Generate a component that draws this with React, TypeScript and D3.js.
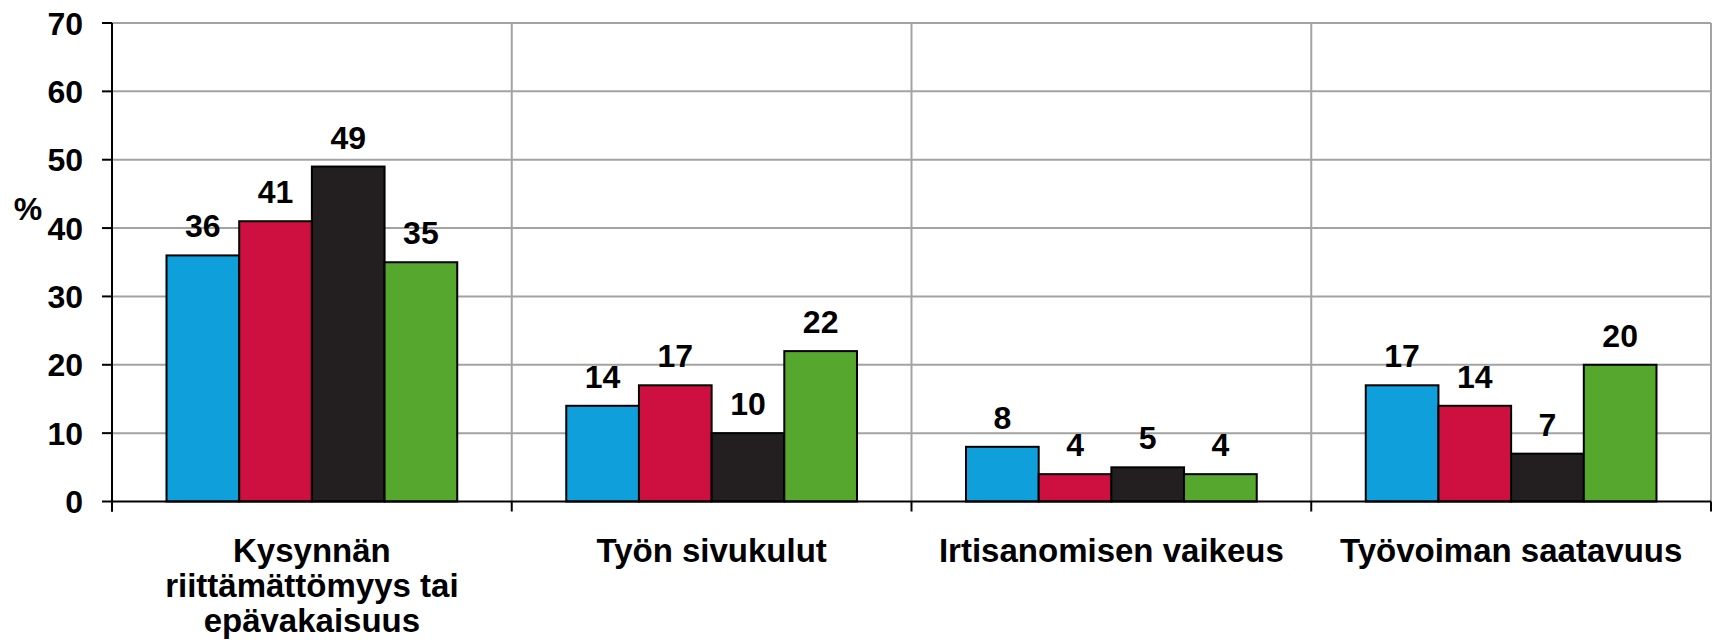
import React from "react";
import * as d3 from "d3";

const categories = [
  "Kysynnän riittämättömyys tai epävakaisuus",
  "Työn sivukulut",
  "Irtisanomisen vaikeus",
  "Työvoiman saatavuus",
];
const categoryLines = [
  ["Kysynnän", "riittämättömyys tai", "epävakaisuus"],
  ["Työn sivukulut"],
  ["Irtisanomisen vaikeus"],
  ["Työvoiman saatavuus"],
];
const seriesNames = ["s1", "s2", "s3", "s4"];
const seriesColors = ["#0fa0db", "#ce1040", "#231f20", "#56a72d"];
const blueValues = [36, 14, 8, 17];
const redValues = [41, 17, 4, 14];
const blackValues = [49, 10, 5, 7];
const greenValues = [35, 22, 4, 20];
const yTicks = [0, 10, 20, 30, 40, 50, 60, 70];

const WIDTH = 1717;
const HEIGHT = 644;
const FONT = "'Liberation Sans', Arial, sans-serif";

const App = () => {
  const left = 112;
  const right = 1711;
  const top = 23;
  const bottom = 501.5;

  const values = [blueValues, redValues, blackValues, greenValues];

  const x = d3.scaleBand().domain(categories).range([left, right]).padding(0);
  const xInner = d3
    .scaleBand()
    .domain(seriesNames)
    .range([0, x.bandwidth()])
    .paddingInner(0)
    .paddingOuter(0.75);
  const y = d3.scaleLinear().domain([0, 70]).range([bottom, top]);

  const boundaries = categories.map((c) => x(c)).concat([right]);

  return (
    <svg
      width={WIDTH}
      height={HEIGHT}
      style={{ position: "absolute", left: 0, top: 0, background: "#fff" }}
      fontFamily={FONT}
      fontWeight="bold"
    >
      {/* horizontal grid */}
      {yTicks.slice(1).map((t) => (
        <line key={t} x1={left} x2={right} y1={y(t)} y2={y(t)} stroke="#a3a3a3" strokeWidth={2} />
      ))}
      {/* vertical dividers */}
      {boundaries.slice(1).map((b, i) => (
        <line key={i} x1={b} x2={b} y1={y(70)} y2={bottom} stroke="#a3a3a3" strokeWidth={2} />
      ))}

      {/* bars */}
      {categories.map((c, ci) => (
        <g key={c} transform={`translate(${x(c)},0)`}>
          {seriesNames.map((s, si) => {
            const v = values[si][ci];
            return (
              <g key={s}>
                <rect
                  x={xInner(s)}
                  y={y(v)}
                  width={xInner.bandwidth()}
                  height={bottom - y(v)}
                  fill={seriesColors[si]}
                  stroke="#000"
                  strokeWidth={2}
                />
                <text
                  x={xInner(s) + xInner.bandwidth() / 2}
                  y={y(v) - 18}
                  textAnchor="middle"
                  fontSize={32}
                  fill="#000"
                >
                  {v}
                </text>
              </g>
            );
          })}
        </g>
      ))}

      {/* x axis */}
      <line x1={left} x2={right} y1={bottom} y2={bottom} stroke="#000" strokeWidth={2} />
      {boundaries.map((b, i) => (
        <line key={i} x1={b} x2={b} y1={bottom} y2={bottom + 10} stroke="#000" strokeWidth={2} />
      ))}

      {/* y axis */}
      <line x1={left} x2={left} y1={top} y2={bottom + 10} stroke="#000" strokeWidth={2} />
      {yTicks.map((t) => (
        <g key={t}>
          <line x1={left - 10} x2={left} y1={y(t)} y2={y(t)} stroke="#000" strokeWidth={2} />
          <text x={83} y={y(t)} dy="0.36em" textAnchor="end" fontSize={32} fill="#000">
            {t}
          </text>
        </g>
      ))}
      <text x={28} y={208} dy="0.36em" textAnchor="middle" fontSize={32} fill="#000">
        %
      </text>

      {/* category labels */}
      {categories.map((c, ci) => (
        <text
          key={c}
          x={x(c) + x.bandwidth() / 2}
          y={562}
          textAnchor="middle"
          fontSize={33}
          fill="#000"
        >
          {categoryLines[ci].map((line, li) => (
            <tspan key={li} x={x(c) + x.bandwidth() / 2} dy={li === 0 ? 0 : 35}>
              {line}
            </tspan>
          ))}
        </text>
      ))}
    </svg>
  );
};

export default App;
